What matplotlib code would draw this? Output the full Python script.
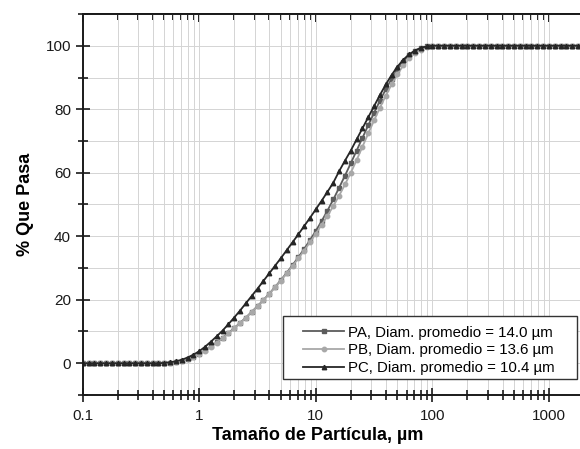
import matplotlib
matplotlib.use('Agg')
import matplotlib.pyplot as plt
from matplotlib.patches import Rectangle
from matplotlib.ticker import LogLocator, MultipleLocator, FixedLocator, NullFormatter

plt.rcParams['font.family'] = ['Liberation Sans', 'DejaVu Sans']

# particle size bins (um), 20 per decade
size_um = [
    0.1, 0.1122, 0.1259, 0.1413, 0.1585, 0.1778, 0.1995, 0.2239, 0.2512, 0.2818,
    0.3162, 0.3548, 0.3981, 0.4467, 0.5012, 0.5623, 0.6310, 0.7079, 0.7943, 0.8913,
    1.0, 1.122, 1.259, 1.413, 1.585, 1.778, 1.995, 2.239, 2.512, 2.818,
    3.162, 3.548, 3.981, 4.467, 5.012, 5.623, 6.310, 7.079, 7.943, 8.913,
    10.0, 11.22, 12.59, 14.13, 15.85, 17.78, 19.95, 22.39, 25.12, 28.18,
    31.62, 35.48, 39.81, 44.67, 50.12, 56.23, 63.10, 70.79, 79.43, 89.13,
    100.0, 112.2, 125.9, 141.3, 158.5, 177.8, 199.5, 223.9, 251.2, 281.8,
    316.2, 354.8, 398.1, 446.7, 501.2, 562.3, 631.0, 707.9, 794.3, 891.3,
    1000.0, 1122.0, 1259.0, 1413.0, 1585.0, 1778.0, 1995.0,
]

# cumulative % passing
pa = [
    0, 0, 0, 0, 0, 0, 0, 0, 0, 0, 0, 0, 0, 0,
    0.05, 0.2, 0.45, 0.85, 1.4, 2.1,
    3.0, 4.1, 5.3, 6.6, 8.0, 9.5, 11.1, 12.7, 14.4, 16.2,
    18.0, 19.9, 21.9, 24.0, 26.2, 28.5, 30.9, 33.4, 36.0, 38.8,
    41.7, 44.8, 48.1, 51.6, 55.3, 59.1, 63.0, 67.0, 71.0, 75.0,
    78.9, 82.7, 86.3, 89.6, 92.5, 95.0, 97.0, 98.4, 99.3, 99.8,
    100, 100, 100, 100, 100, 100, 100, 100, 100, 100,
    100, 100, 100, 100, 100, 100, 100, 100, 100, 100,
    100, 100, 100, 100, 100, 100, 100,
]
pb = [
    0, 0, 0, 0, 0, 0, 0, 0, 0, 0, 0, 0, 0, 0,
    0.05, 0.2, 0.4, 0.8, 1.3, 2.0,
    2.9, 4.0, 5.2, 6.5, 7.9, 9.4, 11.0, 12.6, 14.3, 16.1,
    17.9, 19.8, 21.8, 23.9, 26.0, 28.3, 30.6, 33.0, 35.5, 38.1,
    40.8, 43.6, 46.5, 49.5, 52.8, 56.3, 60.0, 64.0, 68.2, 72.4,
    76.5, 80.5, 84.3, 87.8, 91.0, 93.8, 96.0, 97.7, 98.8, 99.5,
    99.85, 100, 100, 100, 100, 100, 100, 100, 100, 100,
    100, 100, 100, 100, 100, 100, 100, 100, 100, 100,
    100, 100, 100, 100, 100, 100, 100,
]
pc = [
    0, 0, 0, 0, 0, 0, 0, 0, 0, 0, 0, 0, 0, 0,
    0.1, 0.3, 0.6, 1.1, 1.8, 2.7,
    3.8, 5.2, 6.8, 8.5, 10.3, 12.3, 14.4, 16.6, 18.9, 21.2,
    23.5, 25.9, 28.3, 30.7, 33.1, 35.6, 38.1, 40.6, 43.2, 45.8,
    48.5, 51.2, 54.0, 56.9, 60.5, 63.8, 67.0, 70.5, 74.0, 77.5,
    81.0, 84.5, 87.8, 90.8, 93.4, 95.6, 97.3, 98.5, 99.3, 99.8,
    100, 100, 100, 100, 100, 100, 100, 100, 100, 100,
    100, 100, 100, 100, 100, 100, 100, 100, 100, 100,
    100, 100, 100, 100, 100, 100, 100,
]

labels = ['PA, Diam. promedio = 14.0 µm',
          'PB, Diam. promedio = 13.6 µm',
          'PC, Diam. promedio = 10.4 µm']
colors = ['#5c5c5c', '#a8a8a8', '#262626']
markers = ['s', 'o', '^']

fig = plt.figure(figsize=(5.8, 4.49), dpi=100)
ax = fig.add_axes([0.1426, 0.1203, 0.8644, 0.8485])

for y, lab, c, m in zip([pa, pb, pc], labels, colors, markers):
    ax.plot(size_um, y, color=c, marker=m, markersize=3.2, linewidth=1.3, label=lab)

ax.set_xscale('log')
ax.set_xlim(0.1, 2000)
ax.set_ylim(-10, 110)

ax.xaxis.set_major_locator(FixedLocator([0.1, 1, 10, 100, 1000]))
ax.set_xticklabels(['0.1', '1', '10', '100', '1000'])
ax.xaxis.set_minor_locator(LogLocator(base=10, subs=range(2, 10), numticks=20))
ax.xaxis.set_minor_formatter(NullFormatter())
ax.yaxis.set_major_locator(FixedLocator([0, 20, 40, 60, 80, 100]))
ax.yaxis.set_minor_locator(MultipleLocator(10))

ax.grid(True, which='both', color='#d4d4d4', linewidth=0.7)
ax.set_axisbelow(True)

ax.tick_params(which='both', direction='inout', width=1.2, labelsize=11, colors='#1a1a1a')
ax.tick_params(which='major', length=10)
ax.tick_params(which='minor', length=7)
ax.tick_params(axis='x', pad=5)

top = ax.secondary_xaxis('top')
top.xaxis.set_major_locator(FixedLocator([0.1, 1, 10, 100, 1000]))
top.xaxis.set_minor_locator(LogLocator(base=10, subs=range(2, 10), numticks=20))
top.xaxis.set_minor_formatter(NullFormatter())
top.tick_params(which='both', direction='in', labeltop=False, width=1.2)
top.tick_params(which='major', length=6)
top.tick_params(which='minor', length=4)

for s in ax.spines.values():
    s.set_linewidth(1.4)
    s.set_color('#1a1a1a')
top.spines['top'].set_linewidth(1.4)

ax.set_xlabel('Tamaño de Partícula, µm', fontsize=13, fontweight='bold', labelpad=3)
ax.xaxis.set_label_coords(0.469, -0.085)
ax.set_ylabel('% Que Pasa', fontsize=13, fontweight='bold', labelpad=8)

# legend box: wider side margins than matplotlib's frame allows
box = Rectangle((0.3995, 0.042), 0.586, 0.165, transform=ax.transAxes,
                facecolor='white', edgecolor='#333333', linewidth=1.0, zorder=4)
ax.add_patch(box)
leg = ax.legend(loc='lower right', bbox_to_anchor=(0.942, 0.052), borderaxespad=0,
                fontsize=10.8, frameon=False, handlelength=2.7, handletextpad=0.3,
                borderpad=0, labelspacing=0.25)
leg.set_zorder(5)

fig.savefig('out.png', dpi=100)
